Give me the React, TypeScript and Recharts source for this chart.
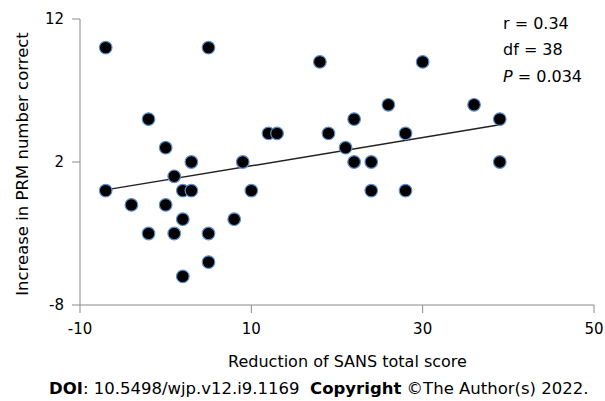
import React from "react";
import {
  ScatterChart,
  Scatter,
  XAxis,
  YAxis,
  ReferenceLine,
} from "recharts";

// SANS reduction vs PRM change, one entry per subject
const sansReduction = [
  -7, 5, 18, 30, 26, 36, -2, 22, 39, 12, 13, 19, 28, 0, 21, 3, 9, 22, 24, 39,
  1, -7, 2, 3, 10, 24, 28, -4, 0, 2, 8, -2, 1, 5, 5, 2,
];
const prmIncrease = [
  10, 10, 9, 9, 6, 6, 5, 5, 5, 4, 4, 4, 4, 3, 3, 2, 2, 2, 2, 2,
  1, 0, 0, 0, 0, 0, 0, -1, -1, -2, -2, -3, -3, -3, -5, -6,
];

// fitted regression line end points
const fitX = [-7, 39];
const fitY = [0.05, 4.6];

const xTicks = [-10, 10, 30, 50];
const yTicks = [-8, 2, 12];

const stats = ["r = 0.34", "df = 38", "0.034"];

const points = sansReduction.map((x, i) => ({ x, y: prmIncrease[i] }));

const font = "'DejaVu Sans', Verdana, sans-serif";
const axisColor = "#8a8a8a";

const Dot = (props: any) => {
  const { cx, cy } = props;
  if (cx == null || cy == null) return null;
  return <circle cx={cx} cy={cy} r={6.3} fill="#000" stroke="#5b8fd0" strokeWidth={1.2} />;
};

export default function App() {
  return (
    <div
      style={{
        position: "absolute",
        left: 0,
        top: 0,
        width: 605,
        height: 401,
        background: "#fff",
        fontFamily: font,
        color: "#000",
      }}
    >
      <ScatterChart
        width={605}
        height={345}
        margin={{ top: 19, right: 11, left: 0, bottom: 10 }}
      >
        <XAxis
          type="number"
          dataKey="x"
          domain={[-10, 50]}
          ticks={xTicks}
          allowDataOverflow
          height={30}
          stroke={axisColor}
          tickSize={8}
          tickMargin={10}
          tick={{ fill: "#000", fontSize: 15, fontFamily: font }}
        />
        <YAxis
          type="number"
          dataKey="y"
          domain={[-8, 12]}
          ticks={yTicks}
          allowDataOverflow
          width={80}
          stroke={axisColor}
          tickSize={8}
          tickMargin={8}
          tick={{ fill: "#000", fontSize: 15, fontFamily: font }}
        />
        <ReferenceLine
          segment={[
            { x: fitX[0], y: fitY[0] },
            { x: fitX[1], y: fitY[1] },
          ]}
          stroke="#222"
          strokeWidth={1.5}
          ifOverflow="visible"
        />
        <Scatter data={points} shape={<Dot />} isAnimationActive={false} />
      </ScatterChart>

      <div
        style={{
          position: "absolute",
          left: 21.7,
          top: 164,
          transform: "translate(-50%, -50%) rotate(-90deg)",
          whiteSpace: "nowrap",
          fontSize: 16.5,
        }}
      >
        Increase in PRM number correct
      </div>

      <div
        style={{
          position: "absolute",
          left: 0,
          width: 605,
          top: 352,
          textAlign: "center",
          fontSize: 16,
          paddingLeft: 90,
          boxSizing: "border-box",
        }}
      >
        Reduction of SANS total score
      </div>

      <div
        style={{
          position: "absolute",
          left: 503,
          top: 11,
          fontSize: 16,
          lineHeight: "26.3px",
          whiteSpace: "nowrap",
        }}
      >
        <div>{stats[0]}</div>
        <div>{stats[1]}</div>
        <div>
          <i>P</i> = {stats[2]}
        </div>
      </div>

      <div
        style={{
          position: "absolute",
          left: 49,
          top: 379,
          fontSize: 16.5,
          whiteSpace: "nowrap",
        }}
      >
        <b>DOI</b>: 10.5498/wjp.v12.i9.1169&nbsp;&nbsp;<b>Copyright</b> ©The
        Author(s) 2022.
      </div>
    </div>
  );
}
